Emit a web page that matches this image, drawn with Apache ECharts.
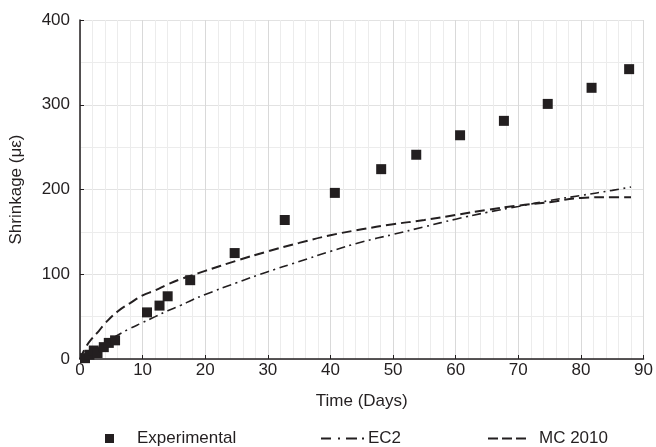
<!DOCTYPE html>
<html>
<head>
<meta charset="utf-8">
<script src="https://cdn.jsdelivr.net/npm/echarts@6/dist/echarts.min.js"></script>
<style>
  html, body { margin: 0; padding: 0; background: #fff; }
  #chart { width: 656px; height: 447px; }
</style>
</head>
<body>
<div id="chart"></div>
<script>
  // experimental readings
  var expDays = [0.8, 1.5, 2.2, 2.8, 3.8, 4.6, 5.6, 10.7, 12.7, 14, 17.6, 24.7, 32.7, 40.7, 48.1, 53.7, 60.7, 67.7, 74.7, 81.7, 87.7];
  var expVals = [1, 5, 10, 7, 14, 19, 22, 55, 63, 74, 93, 125, 164, 196, 224, 241, 264, 281, 301, 320, 342];

  // model curves
  var modelDays = [0, 1, 2, 3, 4, 6, 8, 10, 12, 14, 16, 18, 20, 25, 30, 35, 40, 45, 50, 55, 60, 65, 70, 75, 80, 85, 88];
  var ec2Vals = [0, 4, 8, 13, 18, 28, 36, 43, 50, 57, 63, 70, 76, 90, 103, 115, 127, 138, 147, 156, 165, 173, 180, 187, 193, 199, 203];
  var mcVals = [0, 15, 25, 33, 42, 56, 66, 75, 81, 88, 94, 99, 104, 116, 127, 137, 146, 153, 159, 164, 170, 176, 181, 185, 190, 191, 191];

  var xTicks = [0, 90, 10];
  var yTicks = [0, 400, 100];

  function pairs(xs, ys) {
    return xs.map(function (x, i) { return [x, ys[i]]; });
  }

  var ink = '#231f20';
  var fs = 17;
  var chart = echarts.init(document.getElementById('chart'));
  var option = {
    animation: false,
    textStyle: { fontFamily: 'Liberation Sans, Arial, sans-serif' },
    grid: { left: 80, right: 11, top: 20, bottom: 88 },
    xAxis: {
      type: 'value',
      min: xTicks[0], max: xTicks[1], interval: xTicks[2],
      name: 'Time (Days)', nameLocation: 'middle', nameGap: 34,
      nameTextStyle: { fontSize: fs, color: ink },
      axisLine: { lineStyle: { color: ink, width: 1.5 } },
      axisTick: { inside: true, length: 4, lineStyle: { color: ink } },
      axisLabel: { fontSize: fs, color: ink, margin: 3 },
      splitLine: { show: true, lineStyle: { color: '#d9d9d9', width: 1 } },
      minorTick: { show: false, splitNumber: 5 },
      minorSplitLine: { show: true, lineStyle: { color: '#ececec', width: 1 } }
    },
    yAxis: {
      type: 'value',
      min: yTicks[0], max: yTicks[1], interval: yTicks[2],
      name: 'Shrinkage (με)', nameLocation: 'middle', nameGap: 55,
      nameTextStyle: { fontSize: fs, color: ink },
      axisLine: { show: true, lineStyle: { color: ink, width: 1.5 } },
      axisTick: { show: true, inside: true, length: 4, lineStyle: { color: ink } },
      axisLabel: { fontSize: fs, color: ink, margin: 10 },
      splitLine: { show: true, lineStyle: { color: '#e2e2e2', width: 1 } },
      minorTick: { show: false, splitNumber: 2 },
      minorSplitLine: { show: true, lineStyle: { color: '#ececec', width: 1 } }
    },
    legend: [
      {
        left: 100, top: 425, padding: 5, itemWidth: 9, itemHeight: 9,
        textStyle: { fontSize: fs, color: ink, padding: [0, 0, 0, 18] },
        data: [{ name: 'Experimental', icon: 'rect' }]
      },
      {
        left: 316, top: 425, padding: 5, itemWidth: 43, itemHeight: 2,
        textStyle: { fontSize: fs, color: ink, padding: [0, 0, 0, -1] },
        itemStyle: { borderWidth: 0 },
        data: [{ name: 'EC2', icon: 'path://M0,0h10v2h-10z M17,0h2v2h-2z M25,0h11v2h-11z M41,0h2v2h-2z' }]
      },
      {
        left: 483, top: 425, padding: 5, itemWidth: 38, itemHeight: 2,
        textStyle: { fontSize: fs, color: ink, padding: [0, 0, 0, 8] },
        itemStyle: { borderWidth: 0 },
        data: [{ name: 'MC 2010', icon: 'path://M0,0h10v2h-10z M14,0h10v2h-10z M28,0h10v2h-10z' }]
      }
    ],
    series: [
      {
        name: 'Experimental',
        type: 'scatter',
        symbol: 'rect',
        symbolSize: 10,
        itemStyle: { color: ink, opacity: 1 },
        data: pairs(expDays, expVals),
        z: 5
      },
      {
        name: 'EC2',
        type: 'line',
        smooth: true,
        showSymbol: false,
        symbol: 'none',
        itemStyle: { color: ink },
        lineStyle: { color: ink, width: 1.6, type: [9, 4.5, 2, 4.5] },
        data: pairs(modelDays, ec2Vals)
      },
      {
        name: 'MC 2010',
        type: 'line',
        smooth: true,
        showSymbol: false,
        symbol: 'none',
        itemStyle: { color: ink },
        lineStyle: { color: ink, width: 2, type: [10, 5] },
        data: pairs(modelDays, mcVals)
      }
    ]
  };
  chart.setOption(option);
</script>
</body>
</html>
